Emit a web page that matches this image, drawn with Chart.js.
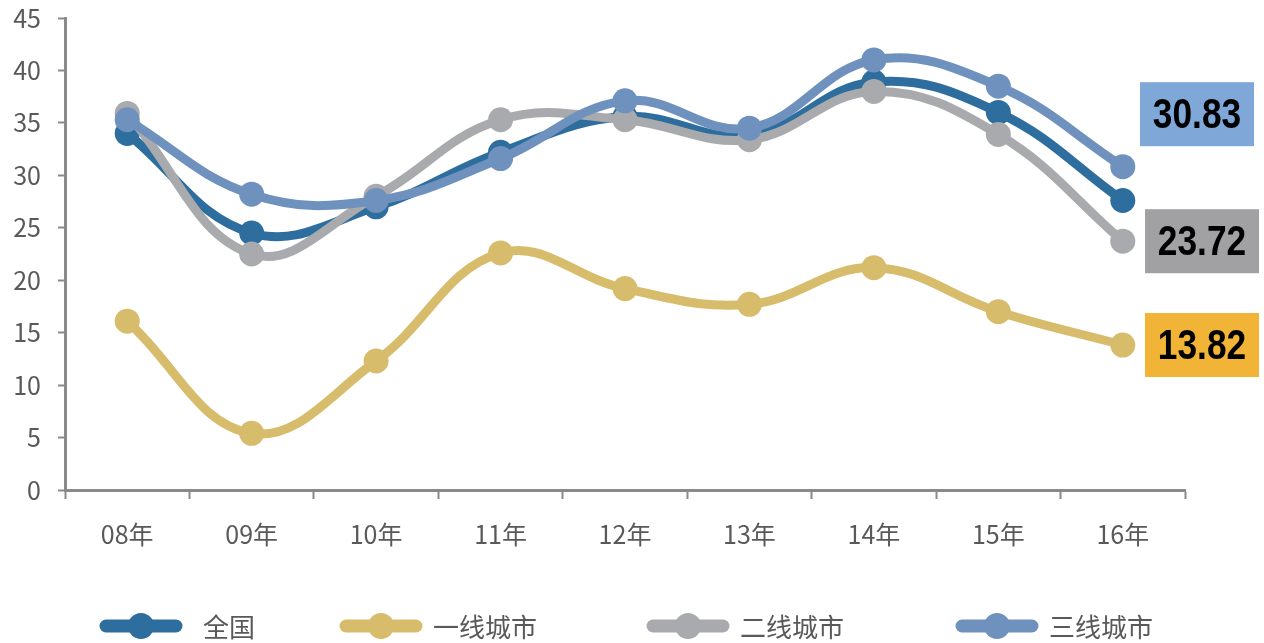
<!DOCTYPE html>
<html lang="zh">
<head>
<meta charset="UTF-8">
<title>城市</title>
<script src="https://cdn.jsdelivr.net/npm/chart.js"></script>
<style>
  html, body { margin: 0; padding: 0; background: #fff; }
  #wrap { width: 1264px; height: 643px; }
</style>
</head>
<body>
<div id="wrap"><canvas id="chart" width="1264" height="643"></canvas></div>
<script>
// 数据
const years = ['08年', '09年', '10年', '11年', '12年', '13年', '14年', '15年', '16年'];
const quanguo = [34.0, 24.5, 27.0, 32.2, 35.6, 33.8, 38.9, 36.0, 27.6];
const yixian  = [16.1, 5.4, 12.3, 22.6, 19.2, 17.7, 21.2, 17.0, 13.82];
const erxian  = [35.9, 22.5, 28.0, 35.3, 35.3, 33.4, 38.0, 33.9, 23.72];
const sanxian = [35.3, 28.2, 27.6, 31.6, 37.1, 34.5, 41.0, 38.5, 30.83];
const yTicks = [0, 5, 10, 15, 20, 25, 30, 35, 40, 45];

const names = ['全国', '一线城市', '二线城市', '三线城市'];
const colors = ['#2D6E9E', '#D7BC6C', '#A9AAAD', '#6F91BE'];
const series = [quanguo, yixian, erxian, sanxian];

// 右侧数值标签
const endLabels = [
  { text: '30.83', value: 30.83, shift: 5.0, bg: '#7FA8D8', dx: -45 },
  { text: '23.72', value: 23.72, shift: 0, bg: '#A1A1A4', dx: -40 },
  { text: '13.82', value: 13.82, shift: 0, bg: '#F2B437', dx: -40 }
];

const tickFont = { family: '"Noto Sans CJK SC", sans-serif', size: 25 };

const endLabelPlugin = {
  id: 'endLabels',
  afterDatasetsDraw(chart) {
    const ctx = chart.ctx;
    const y = chart.scales.y;
    ctx.save();
    endLabels.forEach(l => {
      const cy = y.getPixelForValue(l.value + l.shift);
      const bx = chart.chartArea.right + l.dx;
      ctx.fillStyle = l.bg;
      ctx.fillRect(bx, cy - 32, 114, 64);
      ctx.save();
      ctx.translate(bx + 57, cy + 2);
      ctx.scale(0.84, 1);
      ctx.fillStyle = '#000';
      ctx.font = 'bold 42px "Liberation Sans", Arial, sans-serif';
      ctx.textAlign = 'center';
      ctx.textBaseline = 'middle';
      ctx.fillText(l.text, 0, 0);
      ctx.restore();
    });
    ctx.restore();
  }
};

// 图例：线段加圆点
const legendPlugin = {
  id: 'lineLegend',
  afterDraw(chart) {
    const ctx = chart.ctx;
    const markW = 82, gapText = 11, gaps = [85, 110, 112], cy = 626;
    let x = 100;
    ctx.save();
    ctx.font = '26px "Noto Sans CJK SC", sans-serif';
    names.forEach((n, i) => {
      ctx.strokeStyle = colors[i];
      ctx.lineWidth = 13;
      ctx.lineCap = 'round';
      ctx.beginPath(); ctx.moveTo(x + 6, cy); ctx.lineTo(x + markW - 6, cy); ctx.stroke();
      ctx.fillStyle = colors[i];
      ctx.beginPath(); ctx.arc(x + markW / 2, cy, 13, 0, Math.PI * 2); ctx.fill();
      ctx.fillStyle = '#595959';
      ctx.textAlign = 'left';
      ctx.textBaseline = 'middle';
      const tx = x + markW + gapText + (i === 0 ? 10 : 0);
      ctx.fillText(n, tx, cy + 1);
      x = tx + ctx.measureText(n).width + (gaps[i] || 0);
    });
    ctx.restore();
  }
};

const datasets = series.map((d, i) => ({
  label: names[i],
  data: d,
  borderColor: colors[i],
  backgroundColor: colors[i],
  borderWidth: 9,
  pointRadius: 12.5,
  pointHoverRadius: 12.5,
  pointBorderWidth: 0,
  tension: 0.4,
  order: 4 - i
}));

new Chart(document.getElementById('chart'), {
  type: 'line',
  data: { labels: years, datasets: datasets },
  plugins: [endLabelPlugin, legendPlugin],
  options: {
    responsive: false,
    animation: false,
    layout: { padding: { left: 0, right: 79, top: 18, bottom: 93 } },
    plugins: {
      tooltip: { enabled: false },
      legend: { display: false }
    },
    scales: {
      x: {
        offset: true,
        grid: { offset: true, drawOnChartArea: false, drawTicks: true, tickLength: 9, tickColor: '#8A8A8D', tickWidth: 2 },
        border: { color: '#8A8A8D', width: 3 },
        ticks: { color: '#595959', padding: 20, font: tickFont },
        afterFit(s) { s.height = 60; }
      },
      y: {
        min: 0, max: 45,
        afterBuildTicks(s) { s.ticks = yTicks.map(v => ({ value: v })); },
        grid: { drawOnChartArea: false, drawTicks: true, tickLength: 7, tickColor: '#8A8A8D', tickWidth: 2 },
        border: { color: '#8A8A8D', width: 3 },
        ticks: { color: '#595959', padding: 17, font: tickFont },
        afterFit(s) { s.width = 65; s.paddingTop = 0; s.paddingBottom = 0; }
      }
    }
  }
});
</script>
</body>
</html>
